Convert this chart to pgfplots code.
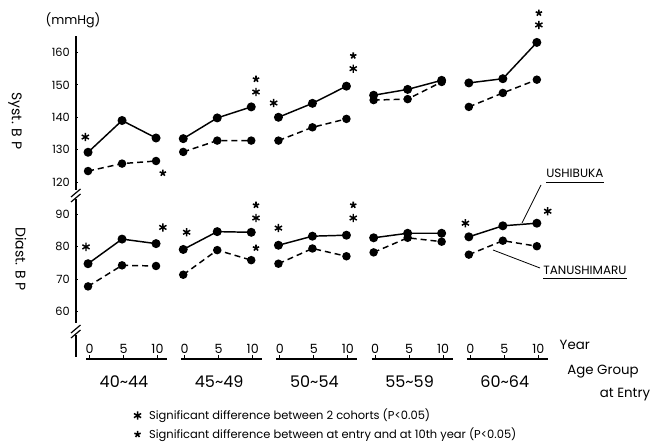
\documentclass[border=0pt]{standalone}
\usepackage{fontspec}
\setmainfont{Poppins}
\usepackage{pgfplots}
\pgfplotsset{compat=1.18}
\begin{document}
\begin{tikzpicture}
\useasboundingbox (0,0) rectangle (489pt,-333.75pt);
\begin{axis}[
  at={(56.85pt,-270.2pt)}, anchor=south west,
  x=5.1pt, y=2.43pt,
  xmin=-1.8, xmax=68, ymin=45, ymax=145,
  hide x axis,
  axis y line=left,
  y axis line style={draw=none},
  ytick={60,70,80,90,100,110,120,130,140},
  yticklabels={60,70,80,90,120,130,140,150,160},
  yticklabel style={font=\fontsize{8.5}{10}\selectfont, xshift=-1pt},
  /pgf/number format/assume math mode=true,
  major tick length=2pt,
  tick align=inside,
  tick style={black, line width=0.8pt},
  clip=false,
  unbounded coords=jump,
  legend style={at={(axis description cs:0.122,-0.142)}, anchor=north west,
     draw=none, fill=none, font=\fontsize{8.6}{10}\selectfont, row sep=0.5pt,
     inner sep=0pt, /tikz/every odd column/.append style={column sep=4pt}},
  legend image code/.code={\draw[#1] plot coordinates {(0.2cm,0cm)};},
  legend cell align=left,
]
% Systolic BP, USHIBUKA (plotted at value - 20)
\addplot[black, line width=1.1pt, mark=*, mark size=2.8pt, forget plot] table {
x y
0 109.2
5 119.0
10 113.6
nan nan
14 113.4
19 119.8
24 123.2
nan nan
28 120.0
33 124.3
38 129.6
nan nan
42 126.8
47 128.6
52 131.4
nan nan
56 130.6
61 131.9
66 143.1
};
% Systolic BP, TANUSHIMARU
\addplot[black, line width=1.1pt, dash pattern=on 4.5pt off 3pt, mark=*, mark size=2.6pt, mark options={solid}, forget plot] table {
x y
0 103.4
5 105.7
10 106.5
nan nan
14 109.3
19 112.8
24 112.8
nan nan
28 112.8
33 116.9
38 119.5
nan nan
42 125.3
47 125.6
52 130.9
nan nan
56 123.2
61 127.5
66 131.6
};
% Diastolic BP, USHIBUKA
\addplot[black, line width=1.1pt, mark=*, mark size=2.8pt, forget plot] table {
x y
0 74.8
5 82.4
10 81.0
nan nan
14 79.2
19 84.7
24 84.5
nan nan
28 80.5
33 83.3
38 83.6
nan nan
42 82.8
47 84.2
52 84.2
nan nan
56 83.1
61 86.5
66 87.3
};
% Diastolic BP, TANUSHIMARU
\addplot[black, line width=1.1pt, dash pattern=on 4.5pt off 3pt, mark=*, mark size=2.6pt, mark options={solid}, forget plot] table {
x y
0 67.8
5 74.3
10 74.1
nan nan
14 71.4
19 79.0
24 75.9
nan nan
28 74.8
33 79.5
38 77.1
nan nan
42 78.3
47 82.8
52 81.6
nan nan
56 77.6
61 81.9
66 80.2
};
% significance marks: between cohorts
\addplot[only marks, black, mark=asterisk, mark size=3.1pt, line width=1.1pt] coordinates {
(-0.4,113.9) (24.7,127.8) (27.3,124.4) (39,135) (66.3,148.5)
(-0.3,80) (11,86) (14.5,84.5) (24.7,88.9) (28,85.8) (39,88.9) (55.5,87.3) (67.6,91)
};
\addlegendentry{Significant difference between 2 cohorts (P<0.05)}
% significance marks: entry vs 10th year
\addplot[only marks, black, mark=star, mark size=2.5pt, line width=1.2pt] coordinates {
(11,102.8) (24.7,131.8) (39,139) (66.3,152.2)
(24.7,92.9) (24.7,79.7) (39,92.9)
};
\addlegendentry{Significant difference between at entry and at 10th year (P<0.05)}
\end{axis}
\begin{scope}[x=0.75pt, y=-0.75pt]
  % broken y axis line
  \draw[line width=1.2pt] (75.8,36.3) -- (75.8,190);
  \draw[line width=0.9pt] (71,197) -- (80.5,189);
  \draw[line width=0.9pt] (71,202) -- (80.5,194);
  \draw[line width=1.2pt] (75.8,199) -- (75.8,323);
  \draw[line width=0.9pt] (71,333) -- (80.5,325);
  \draw[line width=0.9pt] (71,338) -- (80.5,330);
  \draw[line width=1.2pt] (75.8,335) -- (75.8,357);
  % axis titles
  \node[font=\fontsize{9.5}{11}\selectfont] at (73,20) {(mmHg)};
  \node[font=\fontsize{10.5}{12}\selectfont, rotate=-90] at (15,121) {Syst. B P};
  \node[font=\fontsize{10.5}{12}\selectfont, rotate=-90] at (21,259) {Diast. B P};
  % year segments under each age group
  \foreach \g/\lab in {0/40\textasciitilde 44, 1/45\textasciitilde 49, 2/50\textasciitilde 54, 3/55\textasciitilde 59, 4/60\textasciitilde 64} {
    \pgfmathsetmacro{\xs}{88+95.2*\g}
    \draw[line width=1pt] ({\xs-2},359) -- ({\xs+79},359);
    \foreach \yr in {0,5,10} {
      \draw[line width=0.8pt] ({\xs+6.8*\yr+1.5},359) -- ({\xs+6.8*\yr+1.5},354.5);
      \node[anchor=south, inner sep=0pt, font=\fontsize{9.5}{11}\selectfont] at ({\xs+6.8*\yr+1.5},354) {\yr};
    }
    \node[font=\fontsize{12}{14}\selectfont] at ({\xs+36},382) {\lab};
  }
  \node[anchor=west, font=\fontsize{10}{12}\selectfont] at (555,345) {Year};
  \node[font=\fontsize{10}{12}\selectfont] at (603,372) {Age Group};
  \node[font=\fontsize{10}{12}\selectfont] at (625,395) {at Entry};
  % cohort labels
  \node[inner sep=0pt, anchor=base west, font=\fontsize{9}{11}\selectfont] (u) at (546,178) {USHIBUKA};
  \draw[line width=1.1pt] ([yshift=-3.5pt]u.base west) -- ([yshift=-3.5pt]u.base east);
  \draw[line width=0.6pt] (541,185) -- (522,223);
  \node[inner sep=0pt, anchor=base west, font=\fontsize{9}{11}\selectfont] (t) at (543,274) {TANUSHIMARU};
  \draw[line width=1.1pt] ([yshift=-3.5pt]t.base west) -- ([yshift=-3.5pt]t.base east);
  \draw[line width=0.6pt] (493,250) -- (540,268);
\end{scope}
\end{tikzpicture}
\end{document}
